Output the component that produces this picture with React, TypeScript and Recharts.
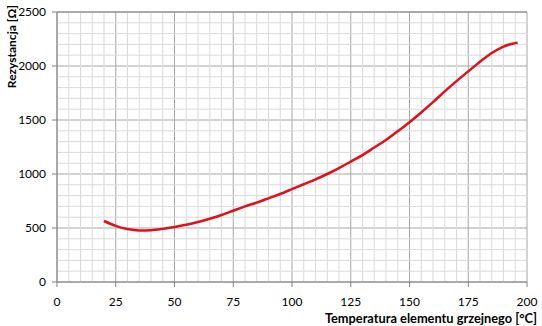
import { CartesianGrid, Line, LineChart, ReferenceLine, XAxis, YAxis } from "recharts";

const temperatures = [20, 25, 30, 35, 40, 45, 50, 55, 60, 65, 70, 75, 80, 85, 90, 95, 100, 105, 110, 115, 120, 125, 130, 135, 140, 145, 150, 155, 160, 165, 170, 175, 180, 185, 190, 195, 196];
const resistances = [565, 520, 490, 478, 480, 492, 510, 530, 555, 585, 620, 660, 700, 735, 775, 815, 860, 905, 950, 1000, 1055, 1115, 1175, 1245, 1315, 1395, 1480, 1570, 1665, 1765, 1860, 1950, 2040, 2120, 2180, 2212, 2216];

const xTicks = [0, 25, 50, 75, 100, 125, 150, 175, 200];
const yTicks = [0, 500, 1000, 1500, 2000, 2500];
const xMinor = [5, 10, 15, 20, 30, 35, 40, 45, 55, 60, 65, 70, 80, 85, 90, 95, 105, 110, 115, 120, 130, 135, 140, 145, 155, 160, 165, 170, 180, 185, 190, 195];
const yMinor = [100, 200, 300, 400, 600, 700, 800, 900, 1100, 1200, 1300, 1400, 1600, 1700, 1800, 1900, 2100, 2200, 2300, 2400];

const data = temperatures.map((t, i) => ({ t, r: resistances[i] }));

const FONT = "Lato, 'Open Sans', sans-serif";

export default function App() {
  return (
    <div style={{ position: "absolute", left: 0, top: 0, width: 542, height: 326, background: "#fff", fontFamily: FONT }}>
      <LineChart width={542} height={326} data={data} margin={{ top: 12, right: 15, bottom: 0, left: 0 }}>
        {xMinor.map((v) => (
          <ReferenceLine key={"x" + v} x={v} stroke="#d9d9d9" />
        ))}
        {yMinor.map((v) => (
          <ReferenceLine key={"y" + v} y={v} stroke="#d9d9d9" />
        ))}
        <CartesianGrid stroke="#a6a6a6" verticalValues={xTicks} horizontalValues={yTicks} />
        <XAxis
          dataKey="t"
          type="number"
          domain={[0, 200]}
          ticks={xTicks}
          height={44}
          stroke="#808080"
          tickSize={5}
          tickMargin={10}
          tick={{ fontSize: 12, fill: "#000", fontFamily: FONT }}
          label={() => (
            <text x={537} y={323} textAnchor="end" fontSize={12.8} fontWeight="bold" fill="#000" fontFamily={FONT}>
              Temperatura elementu grzejnego [°C]
            </text>
          )}
        />
        <YAxis
          type="number"
          domain={[0, 2500]}
          ticks={yTicks}
          width={57}
          stroke="#808080"
          tickSize={5}
          tickMargin={6}
          tick={{ fontSize: 12, fill: "#000", fontFamily: FONT }}
          label={() => (
            <text x={16} y={5} transform="rotate(-90 16 5)" textAnchor="end" fontSize={12} fontWeight="bold" fill="#000" fontFamily={FONT}>
              Rezystancja [Ω]
            </text>
          )}
        />
        <ReferenceLine y={2500} stroke="#808080" />
        <Line type="monotone" dataKey="r" stroke="#e0101a" strokeWidth={2.5} dot={false} isAnimationActive={false} />
      </LineChart>
    </div>
  );
}
